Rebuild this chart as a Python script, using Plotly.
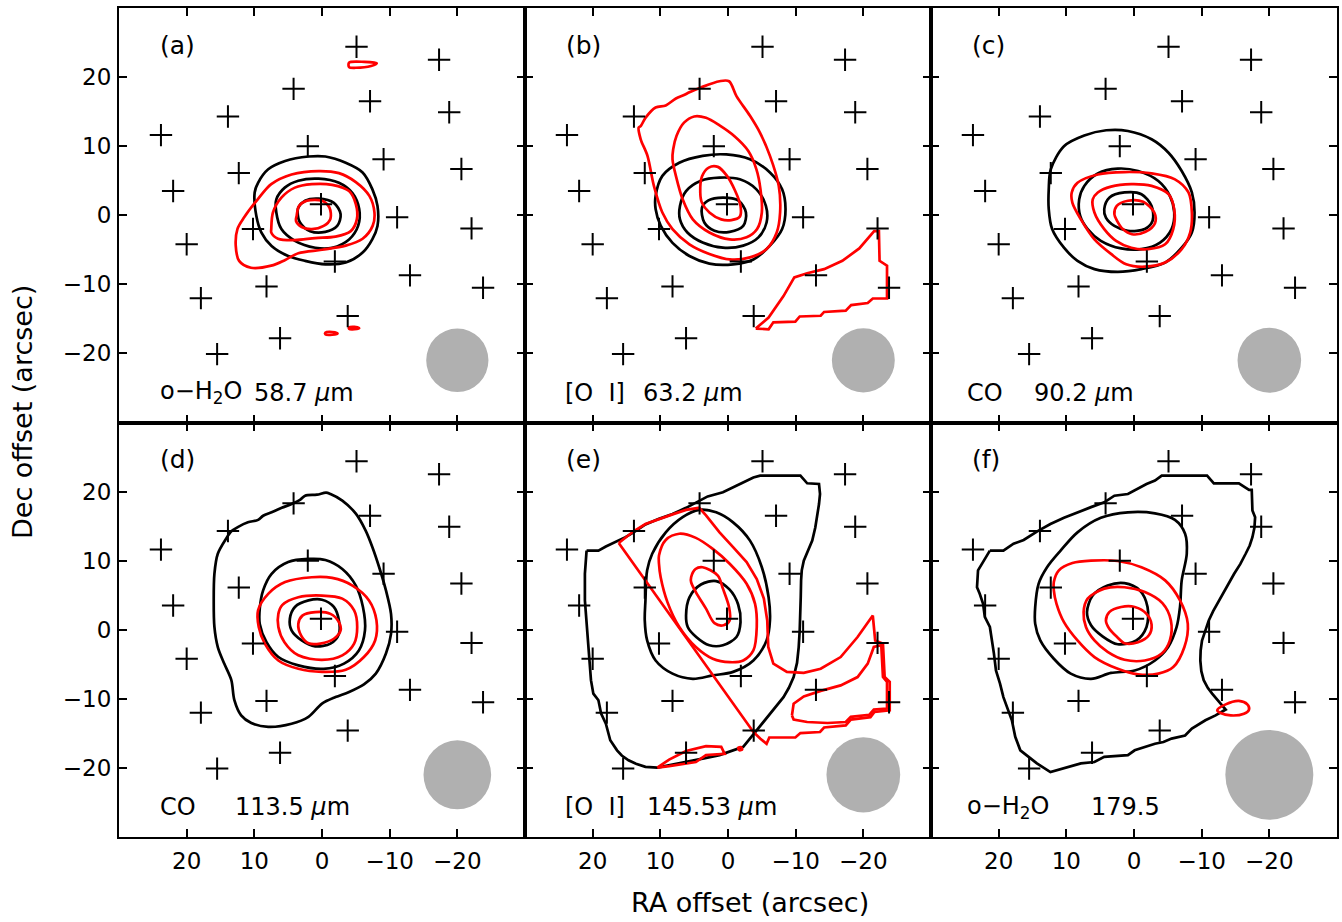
import plotly.graph_objects as go
from plotly.subplots import make_subplots

# ---------------- data ----------------
# PACS spaxel centres (RA offset, Dec offset) in arcsec
spaxel_ra = [-5.1, -17.3, 4.2, -7.1, -18.8, 13.9, 23.8, 2.1, -9.1, -20.6, 12.3, 22.0, 0.15,
             -11.1, -22.1, 10.2, 20.0, -1.9, -13.0, -23.8, 8.2, 17.9, -3.8, 6.2, 15.5]
spaxel_dec = [24.4, 22.5, 18.3, 16.5, 14.9, 14.3, 11.6, 10.0, 8.1, 6.7, 6.1, 3.5, 1.6,
              -0.3, -1.9, -2.0, -4.2, -6.7, -8.7, -10.5, -10.3, -12.0, -14.6, -17.8, -20.1]

panel_letters = ["(a)", "(b)", "(c)", "(d)", "(e)", "(f)"]
species = ["o\u2212H<sub>2</sub>O", "[O\u00a0\u00a0I]", "CO", "CO", "[O\u00a0\u00a0I]", "o\u2212H<sub>2</sub>O"]
wavelengths = ["58.7 <i>\u00b5</i>m", "63.2 <i>\u00b5</i>m", "90.2 <i>\u00b5</i>m",
               "113.5 <i>\u00b5</i>m", "145.53 <i>\u00b5</i>m", "179.5"]
beam_radius = [4.6, 4.65, 4.7, 5.0, 5.45, 6.5]
beam_ra = -20.0
beam_dec = -21.0

# contour loops, (RA, Dec) in arcsec
a_black = [
    [(9.95, 3.3), (9.45, 4.7), (7.95, 6.65), (5.45, 7.85), (2.0, 8.5), (-0.5, 8.5), (-3.5, 7.6), (-6.0, 6.2),
     (-7.45, 3.75), (-8.2, 1.35), (-8.2, -1.55), (-7.45, -3.45), (-6.0, -5.4), (-3.5, -6.85), (-0.5, -7.1),
     (2.5, -6.6), (5.0, -5.9), (7.45, -4.45), (8.95, -2.5), (9.7, -0.1), (9.95, 3.3)],
    [(6.75, 2.3), (5.5, 4.0), (3.5, 5.0), (0.5, 5.3), (-2.5, 4.7), (-4.5, 3.2), (-5.5, 0.9), (-5.35, -1.5),
     (-4.0, -3.5), (-1.5, -4.7), (1.0, -4.7), (4.0, -3.7), (6.0, -2.0), (6.75, 0.4), (6.75, 2.3)],
    [(3.5, 1.1), (2.5, 2.1), (0.5, 2.4), (-1.75, 1.8), (-2.75, 0.15), (-2.25, -1.55), (-0.5, -2.4),
     (1.75, -2.3), (3.25, -1.05), (3.6, 0.4), (3.5, 1.1)],
]
a_black_step = []
a_red = [
    [(12.5, -2.0), (11.5, -0.3), (9.5, 2.3), (7.5, 4.5), (4.5, 5.9), (0.5, 6.4), (-2.5, 6.1), (-5.0, 4.8),
     (-7.0, 2.8), (-7.75, 0.4), (-7.5, -1.5), (-6.0, -3.4), (-3.5, -4.4), (0.0, -5.0), (3.5, -5.5),
     (5.5, -6.5), (7.5, -7.3), (10.5, -7.6), (12.25, -6.6), (12.75, -4.4), (12.5, -2.0)],
    [(7.5, -2.0), (7.25, 0.4), (6.0, 2.55), (4.0, 4.0), (1.5, 4.5), (-1.5, 4.4), (-4.0, 3.5), (-5.0, 1.6),
     (-5.15, -0.6), (-4.25, -2.3), (-2.0, -3.1), (1.0, -3.3), (4.0, -3.6), (6.5, -3.4), (7.5, -2.5), (7.5, -2.0)],
    [(3.75, -0.1), (3.4, 1.35), (2.25, 2.1), (0.0, 2.1), (-1.1, 1.1), (-1.25, -0.5), (-0.25, -1.55),
     (1.5, -2.0), (3.0, -1.7), (3.85, -0.8), (3.75, -0.1)],
    [(-4.0, 22.1), (-6.25, 22.2), (-8.1, 22.0), (-7.25, 21.6), (-5.0, 21.35), (-4.0, 21.45), (-4.0, 22.1)],
    [(-0.5, -17.0), (-1.5, -16.9), (-2.3, -17.1), (-1.5, -17.3), (-0.5, -17.25), (-0.5, -17.0)],
    [(-4.0, -16.25), (-4.8, -16.15), (-5.5, -16.35), (-4.8, -16.5), (-4.0, -16.45), (-4.0, -16.25)],
]
a_red_step = []

b_black = [
    [(10.7, 2.8), (9.7, 5.7), (7.2, 7.6), (3.75, 8.6), (0.25, 8.8), (-3.25, 8.1), (-6.2, 6.2), (-8.0, 3.75),
     (-8.5, 0.9), (-8.0, -2.0), (-6.2, -4.4), (-3.75, -6.4), (-0.75, -7.1), (2.75, -7.0), (5.7, -5.9),
     (8.2, -4.0), (9.95, -1.5), (10.7, 0.9), (10.7, 2.8)],
    [(7.1, 1.35), (6.2, 3.5), (4.0, 5.0), (1.25, 5.45), (-1.75, 5.2), (-4.2, 3.75), (-5.6, 1.35), (-5.7, -1.05),
     (-4.5, -3.2), (-2.25, -4.4), (0.75, -4.7), (3.75, -3.95), (6.0, -2.5), (7.1, -0.6), (7.1, 1.35)],
    [(3.85, 1.1), (2.9, 2.15), (0.75, 2.55), (-1.5, 2.15), (-2.65, 0.4), (-2.25, -1.55), (-0.25, -2.4),
     (2.0, -2.25), (3.5, -1.05), (3.85, 1.1)],
]
b_black_step = []
b_red = [
    [(12.9, 12.9), (12.2, 14.1), (10.7, 15.6), (9.2, 15.9), (7.7, 16.9), (6.5, 17.4), (5.7, 17.8), (4.0, 18.5),
     (1.25, 19.4), (-0.15, 19.4), (-1.25, 17.25), (-3.25, 14.4), (-4.7, 12.0), (-6.2, 8.6), (-7.5, 4.25),
     (-7.7, 0.4), (-7.2, -2.5), (-5.7, -4.9), (-3.25, -6.1), (-0.25, -6.4), (2.75, -5.6), (5.7, -4.2),
     (8.2, -2.0), (9.7, 0.4), (10.95, 4.25), (11.9, 8.6), (12.9, 11.0), (13.2, 12.7), (12.9, 12.9)],
    [(8.1, 9.55), (7.6, 11.5), (6.5, 13.4), (5.0, 14.3), (3.25, 14.1), (1.25, 13.0), (-1.0, 11.4), (-3.0, 9.3),
     (-4.2, 6.65), (-4.8, 3.75), (-5.0, 0.4), (-4.3, -2.0), (-2.75, -3.2), (-0.25, -3.5), (2.75, -2.5),
     (5.2, -0.6), (6.7, 2.3), (7.7, 5.7), (8.2, 8.1), (8.1, 9.55)],
    [(4.1, 3.3), (3.85, 5.6), (2.85, 6.9), (1.5, 7.0), (0.15, 5.7), (-1.0, 3.65), (-1.85, 1.35), (-1.75, -0.2),
     (-0.5, -0.7), (1.0, -0.6), (2.75, 0.4), (3.85, 1.8), (4.1, 3.3)],
]
b_red_step = [
    [(-4.1, -16.4), (-6.0, -14.8), (-8.2, -11.7), (-9.8, -9.0), (-11.7, -8.4), (-14.2, -7.8), (-16.9, -6.6),
     (-19.4, -4.8), (-21.6, -2.3), (-22.3, -2.3), (-22.4, -6.6), (-23.5, -7.3), (-23.5, -12.05), (-21.4, -12.05),
     (-20.65, -12.7), (-18.2, -13.0), (-17.4, -13.8), (-14.2, -14.0), (-13.7, -14.55), (-10.6, -14.65),
     (-9.95, -15.4), (-6.7, -15.5), (-6.0, -16.5), (-4.1, -16.4)],
]

c_black = [
    [(12.6, 3.75), (12.3, 6.65), (10.35, 10.0), (7.35, 11.55), (4.1, 12.3), (0.9, 12.2), (-2.6, 11.0),
     (-5.1, 9.05), (-7.05, 6.4), (-8.55, 3.3), (-8.95, 0.4), (-8.55, -2.5), (-7.05, -4.7), (-4.6, -6.85),
     (-1.1, -7.8), (2.4, -8.2), (5.85, -7.8), (8.35, -6.6), (10.35, -4.7), (12.1, -2.0), (12.6, 0.9), (12.6, 3.75)],
    [(8.1, 2.3), (7.35, 4.25), (5.35, 6.05), (2.4, 6.75), (-0.6, 6.4), (-3.6, 4.95), (-5.3, 2.8), (-5.95, 0.4),
     (-5.55, -2.0), (-3.85, -3.95), (-1.1, -4.9), (1.9, -4.8), (4.9, -3.7), (6.85, -2.0), (7.95, -0.1), (8.1, 2.3)],
    [(4.4, 0.9), (3.65, 2.55), (1.4, 3.3), (-1.1, 3.05), (-2.6, 1.35), (-2.75, -0.8), (-1.6, -2.0),
     (0.9, -2.25), (2.9, -1.55), (4.15, -0.35), (4.4, 0.9)],
]
c_black_step = []
c_red = [
    [(9.2, 3.3), (8.35, 4.7), (5.35, 5.9), (1.4, 6.25), (-2.6, 6.05), (-6.05, 5.2), (-8.05, 3.3), (-8.55, 0.4),
     (-8.3, -2.5), (-7.05, -4.9), (-4.6, -6.85), (-1.6, -7.45), (1.15, -7.1), (3.4, -5.6), (5.85, -3.5),
     (7.85, -0.6), (9.1, 1.8), (9.2, 3.3)],
    [(6.1, 2.3), (5.35, 3.3), (3.4, 4.15), (0.4, 4.5), (-2.6, 4.25), (-5.1, 3.05), (-5.95, 0.8), (-5.8, -2.0),
     (-4.6, -4.2), (-2.1, -4.9), (0.4, -4.7), (2.65, -3.7), (4.4, -2.0), (5.85, 0.4), (6.1, 2.3)],
    [(2.9, 0.15), (2.55, 1.35), (0.9, 2.1), (-1.35, 1.95), (-3.0, 0.4), (-3.1, -1.15), (-1.7, -2.4),
     (0.3, -2.75), (1.65, -2.0), (2.5, -0.8), (2.9, 0.15)],
]
c_red_step = []

d_black = [
    [(14.2, 13.15), (13.4, 14.25), (12.45, 14.85), (10.95, 15.55), (9.45, 15.9), (8.7, 16.5), (7.45, 17.0),
     (5.95, 17.65), (4.5, 18.2), (3.25, 18.8), (2.5, 19.4), (0.75, 19.55), (-0.6, 19.85), (-1.25, 19.65),
     (-3.0, 18.7), (-5.0, 16.8), (-6.45, 14.35), (-7.45, 11.95), (-8.45, 9.05), (-9.45, 5.7), (-10.2, 2.3),
     (-10.2, -0.6), (-9.45, -3.45), (-7.95, -6.35), (-6.2, -7.9), (-4.0, -9.0), (-2.0, -9.75), (0.0, -10.7),
     (2.0, -12.6), (4.5, -13.6), (7.95, -14.05), (10.45, -13.5), (11.95, -12.4), (12.95, -10.2), (13.4, -7.3),
     (14.45, -4.9), (15.4, -2.5), (15.9, 0.4), (16.0, 4.25), (15.9, 8.1), (15.4, 11.0), (14.2, 13.15)],
    [(9.2, 3.05), (8.7, 5.7), (7.45, 8.1), (5.0, 9.8), (2.0, 10.25), (-0.5, 10.1), (-3.0, 8.8), (-5.0, 6.4),
     (-6.05, 3.3), (-6.35, -0.1), (-5.45, -3.0), (-3.25, -4.9), (-0.25, -5.65), (3.5, -5.15), (6.45, -3.95),
     (8.2, -1.8), (9.2, 0.85), (9.2, 3.05)],
    [(4.75, 1.6), (4.0, 3.3), (2.0, 4.25), (0.0, 4.35), (-1.75, 3.3), (-2.5, 1.35), (-2.5, -0.6), (-1.25, -2.0),
     (1.0, -2.4), (3.0, -1.55), (4.5, -0.1), (4.75, 1.6)],
]
d_black_step = []
d_red = [
    [(9.45, 2.8), (7.95, 5.2), (5.45, 6.9), (1.5, 7.6), (-1.5, 7.5), (-4.5, 6.4), (-6.95, 4.25), (-8.05, 1.35),
     (-7.85, -1.55), (-6.2, -3.95), (-3.5, -5.8), (0.0, -6.1), (3.5, -5.65), (6.45, -4.45), (8.45, -2.0),
     (9.35, 0.4), (9.45, 2.8)],
    [(6.45, 2.3), (5.85, 3.6), (3.5, 4.7), (0.0, 4.95), (-3.0, 4.5), (-4.75, 2.8), (-5.2, 0.4), (-4.75, -2.0),
     (-3.0, -3.7), (0.0, -4.35), (3.5, -3.7), (5.55, -1.8), (6.45, 0.4), (6.45, 2.3)],
    [(3.5, 0.85), (2.9, 2.05), (1.0, 2.55), (-1.25, 2.3), (-2.5, 1.1), (-2.75, -0.1), (-1.75, -1.3),
     (0.25, -2.0), (2.0, -1.95), (3.1, -0.8), (3.5, 0.85)],
]
d_red_step = []

e_black = [
    [(12.2, 4.25), (11.95, 8.6), (11.2, 11.0), (9.2, 14.1), (6.7, 16.3), (4.25, 17.35), (1.75, 17.0),
     (-0.75, 15.55), (-3.25, 12.9), (-5.0, 9.05), (-6.0, 4.7), (-6.2, 1.35), (-5.7, -1.55), (-3.75, -4.45),
     (-0.75, -6.1), (2.25, -6.6), (5.2, -7.1), (8.2, -6.35), (10.7, -4.45), (11.95, -1.55), (12.3, 1.35), (12.2, 4.25)],
    [(6.2, 2.05), (5.7, 4.7), (4.0, 6.55), (1.75, 7.05), (-0.25, 5.8), (-1.5, 3.65), (-1.85, 1.1), (-1.25, -1.05),
     (0.75, -2.25), (2.75, -2.25), (4.7, -1.05), (5.95, 0.4), (6.2, 2.05)],
]
e_black_step = [
    [(20.9, 11.45), (19.15, 11.45), (18.05, 12.05), (16.15, 12.9), (15.15, 13.4), (13.95, 14.1), (12.2, 15.25),
     (10.2, 16.05), (8.2, 16.75), (6.2, 17.65), (4.25, 18.6), (3.0, 19.3), (0.75, 19.9), (-0.75, 20.55),
     (-2.0, 21.2), (-3.75, 22.05), (-4.75, 22.3), (-10.7, 22.3), (-11.7, 21.2), (-13.45, 21.1), (-13.6, 19.65),
     (-13.45, 18.2), (-13.2, 16.75), (-12.9, 14.8), (-12.45, 12.9), (-11.7, 11.3), (-11.2, 10.0), (-10.9, 8.6),
     (-10.8, 7.15), (-10.75, 4.7), (-10.7, 2.3), (-10.6, 0.0), (-10.45, -2.5), (-10.2, -4.8), (-9.7, -6.85),
     (-9.0, -8.4), (-8.2, -9.75), (-7.2, -11.0), (-6.2, -12.15), (-4.75, -14.05), (-3.75, -15.15),
     (-2.25, -16.95), (-0.25, -17.7), (1.25, -18.15), (3.75, -18.65), (6.2, -19.15), (8.2, -19.6),
     (10.45, -19.95), (12.2, -19.85), (13.6, -19.4), (14.7, -18.9), (15.7, -18.2), (16.4, -17.45),
     (17.4, -16.0), (18.05, -13.6), (18.75, -12.15), (19.15, -10.2), (19.9, -9.25), (20.25, -7.3),
     (20.4, -5.4), (20.65, -2.5), (20.9, 0.4), (21.15, 4.25), (21.15, 8.1), (20.9, 11.45)],
]
e_red = [
    [(10.2, 10.75), (9.2, 13.0), (7.2, 13.9), (4.75, 13.3), (2.25, 11.7), (-0.25, 9.55), (-2.75, 6.65),
     (-4.0, 3.75), (-4.25, 0.4), (-3.75, -3.0), (-2.25, -4.45), (-0.25, -4.7), (2.25, -4.2), (4.75, -2.5),
     (7.2, 0.4), (8.95, 4.0), (9.95, 7.6), (10.2, 9.55), (10.2, 10.75)],
    [(5.45, 7.6), (4.8, 8.8), (3.75, 9.05), (1.5, 7.85), (0.75, 5.95), (-0.15, 3.3), (-0.25, 1.35), (0.65, 0.65),
     (2.0, 0.95), (3.25, 3.05), (4.75, 5.45), (5.45, 6.9), (5.45, 7.6)],
    [(-1.5, -17.1), (-1.9, -17.0), (-2.1, -17.3), (-1.7, -17.45), (-1.5, -17.1)],
]
e_red_step = [
    [(16.15, 12.55), (13.95, 14.25), (12.2, 15.3), (10.2, 16.05), (8.2, 16.7), (6.2, 17.35), (4.25, 17.65),
     (3.25, 16.55), (1.25, 14.1), (-0.75, 11.95), (-2.75, 9.8), (-4.25, 7.35), (-5.3, 4.5), (-5.8, 1.35),
     (-5.95, -2.5), (-6.7, -4.9), (-8.7, -6.1), (-11.2, -6.25), (-13.7, -5.65), (-16.65, -3.95),
     (-19.15, -1.05), (-21.4, 2.05), (-21.75, -1.55), (-22.9, -2.0), (-23.15, -6.85), (-23.9, -7.55),
     (-23.9, -11.65), (-21.65, -11.9), (-21.05, -12.65), (-18.15, -13.0), (-17.4, -13.85), (-14.2, -14.15),
     (-13.6, -14.8), (-10.7, -14.95), (-9.95, -15.6), (-6.1, -15.6), (-5.7, -16.5), (-4.75, -15.75),
     (-3.75, -14.8), (16.15, 12.55)],
    [(-9.45, -12.4), (-9.7, -10.7), (-11.2, -9.65), (-13.7, -8.85), (-16.65, -8.05), (-19.15, -6.85),
     (-20.65, -4.9), (-21.55, -2.5), (-22.65, -2.25), (-22.9, -6.85), (-23.5, -7.55), (-23.5, -11.4),
     (-21.55, -11.55), (-20.9, -12.3), (-18.15, -12.6), (-17.4, -13.35), (-14.7, -13.5), (-11.7, -13.35),
     (-9.7, -13.0), (-9.45, -12.4)],
    [(10.45, -19.95), (8.7, -18.8), (6.2, -17.55), (3.25, -16.85), (1.0, -16.95), (0.5, -17.95), (3.25, -18.15),
     (4.75, -19.15), (8.7, -19.75), (10.45, -19.95)],
]

f_black = [
    [(14.6, 3.3), (14.1, 6.65), (12.85, 9.05), (10.85, 11.45), (8.35, 14.1), (4.9, 16.2), (0.9, 17.0),
     (-3.1, 16.85), (-6.05, 15.9), (-7.55, 13.9), (-7.8, 11.0), (-7.05, 7.15), (-6.8, 3.3), (-6.3, 0.4),
     (-5.05, -2.5), (-3.1, -4.45), (-0.1, -5.9), (3.4, -6.25), (6.35, -7.1), (9.35, -6.35), (11.85, -4.2),
     (13.85, -1.55), (14.6, 0.85), (14.6, 3.3)],
    [(6.95, 2.55), (6.1, 4.95), (3.9, 6.4), (1.4, 6.75), (-0.85, 5.7), (-2.0, 3.3), (-1.85, 0.4), (-0.35, -1.55),
     (2.4, -2.1), (4.65, -0.95), (6.35, 0.65), (6.95, 2.55)],
]
f_black_step = [
    [(21.3, 11.45), (19.3, 11.45), (17.8, 12.45), (16.3, 13.0), (14.3, 14.25), (12.35, 15.3), (10.35, 16.2),
     (8.35, 17.0), (6.35, 17.75), (4.4, 18.45), (2.9, 19.4), (0.9, 19.65), (-0.6, 20.4), (-1.85, 21.1),
     (-3.1, 21.6), (-4.1, 22.3), (-10.8, 22.3), (-11.8, 21.2), (-15.5, 21.2), (-17.0, 20.25), (-17.4, 20.25),
     (-17.5, 17.25), (-17.9, 16.3), (-17.8, 14.8), (-17.5, 13.4), (-17.1, 12.2), (-16.5, 11.0), (-15.7, 9.5),
     (-14.8, 8.1), (-13.7, 6.2), (-12.55, 4.25), (-11.7, 2.7), (-11.05, 1.35), (-10.5, -0.1), (-10.05, -1.55),
     (-9.85, -3.0), (-9.8, -4.45), (-9.95, -6.0), (-10.3, -7.3), (-10.9, -8.4), (-11.55, -9.25),
     (-12.8, -10.7), (-13.55, -11.55), (-12.05, -12.4), (-10.55, -13.1), (-8.55, -14.3), (-7.55, -15.3),
     (-5.55, -15.75), (-4.35, -16.25), (-3.1, -16.5), (-0.1, -17.45), (0.9, -18.15), (4.4, -18.4),
     (5.85, -19.15), (7.85, -19.35), (12.35, -20.6), (14.35, -19.35), (16.8, -17.45), (17.55, -15.5),
     (18.05, -13.1), (18.8, -11.2), (19.3, -9.75), (19.8, -7.8), (20.4, -5.9), (20.7, -3.45), (21.05, -1.05),
     (21.3, 0.4), (22.05, 1.85), (22.3, 3.75), (22.8, 5.2), (23.2, 6.15), (23.05, 8.6), (21.3, 11.45)],
]
f_red = [
    [(11.85, 6.9), (11.1, 8.6), (9.1, 9.65), (6.35, 10.0), (2.4, 9.95), (-1.1, 9.05), (-4.6, 7.15), (-6.8, 4.25),
     (-7.95, 0.85), (-7.45, -2.5), (-5.8, -5.4), (-3.6, -6.35), (-0.6, -6.45), (2.4, -5.65), (5.85, -3.95),
     (8.35, -1.55), (10.35, 1.1), (11.45, 3.75), (11.85, 5.7), (11.85, 6.9)],
    [(7.45, 2.55), (6.85, 4.5), (4.4, 5.95), (1.4, 6.15), (-1.6, 5.45), (-4.2, 3.85), (-5.45, 1.35), (-5.3, -1.55),
     (-4.1, -3.45), (-1.6, -4.45), (1.4, -4.35), (3.9, -3.2), (5.85, -1.55), (7.1, 0.4), (7.45, 2.55)],
    [(4.15, 1.35), (3.65, 2.55), (1.9, 3.3), (-0.1, 3.3), (-1.85, 2.3), (-2.6, 0.75), (-2.2, -0.8), (-0.6, -1.8),
     (1.4, -1.95), (2.5, -1.05), (3.65, 0.15), (4.15, 1.35)],
    [(-12.3, -11.65), (-13.55, -10.8), (-15.5, -10.3), (-16.75, -10.8), (-17.0, -11.55), (-16.25, -12.15),
     (-14.3, -12.4), (-12.8, -12.05), (-12.3, -11.65)],
]
f_red_step = []

panels = [
    (a_black, a_black_step, a_red, a_red_step),
    (b_black, b_black_step, b_red, b_red_step),
    (c_black, c_black_step, c_red, c_red_step),
    (d_black, d_black_step, d_red, d_red_step),
    (e_black, e_black_step, e_red, e_red_step),
    (f_black, f_black_step, f_red, f_red_step),
]

# ---------------- figure ----------------
FONT = "DejaVu Sans"
fig = make_subplots(rows=2, cols=3, horizontal_spacing=0, vertical_spacing=0)


def add_loop(loop, color, shape, row, col):
    line = dict(color=color, width=2.7, shape=shape)
    if shape == "spline":
        line["smoothing"] = 0.9
    fig.add_trace(go.Scatter(
        x=[p[0] for p in loop], y=[p[1] for p in loop], mode="lines", line=line,
        hoverinfo="skip", showlegend=False), row=row, col=col)


for i, (blk, blk_step, red, red_step) in enumerate(panels):
    row, col = i // 3 + 1, i % 3 + 1
    for loop in blk:
        add_loop(loop, "black", "spline", row, col)
    for loop in blk_step:
        add_loop(loop, "black", "linear", row, col)
    for loop in red:
        add_loop(loop, "#ff0000", "spline", row, col)
    for loop in red_step:
        add_loop(loop, "#ff0000", "linear", row, col)
    fig.add_trace(go.Scatter(
        x=spaxel_ra, y=spaxel_dec, mode="markers",
        marker=dict(symbol="cross-thin", size=16, color="black", line=dict(color="black", width=2)),
        hoverinfo="skip", showlegend=False), row=row, col=col)

    sfx = "" if i == 0 else str(i + 1)
    xr, yr = "x" + sfx, "y" + sfx
    r = beam_radius[i]
    fig.add_shape(type="circle", xref=xr, yref=yr, x0=beam_ra - r, x1=beam_ra + r,
                  y0=beam_dec - r, y1=beam_dec + r, fillcolor="#b0b0b0", line=dict(width=0), layer="below")
    fig.add_annotation(x=24.3, y=24.6, xref=xr, yref=yr, text=panel_letters[i], showarrow=False,
                       xanchor="left", yanchor="middle", font=dict(family=FONT, size=25, color="black"))

# bottom-left labels
species_x = [24.3, 24.4, 25.0, 24.3, 24.4, 25.0]
wave_x = [10.3, 12.8, 15.1, 13.1, 12.3, 6.7]
for i in range(6):
    sfx = "" if i == 0 else str(i + 1)
    xr, yr = "x" + sfx, "y" + sfx
    fig.add_annotation(x=species_x[i], y=-25.7, xref=xr, yref=yr, text=species[i], showarrow=False,
                       xanchor="left", yanchor="middle", font=dict(family=FONT, size=24, color="black"))
    fig.add_annotation(x=wave_x[i], y=-25.7, xref=xr, yref=yr, text=wavelengths[i], showarrow=False,
                       xanchor="left", yanchor="middle", font=dict(family=FONT, size=24, color="black"))

axis_common = dict(ticks="inside", ticklen=8, tickwidth=2, tickcolor="black", showline=True,
                   linecolor="black", linewidth=2, mirror="ticks", showgrid=False, zeroline=False,
                   automargin=False, tickfont=dict(family=FONT, size=23, color="black"))
fig.update_xaxes(range=[30, -30], tickvals=[20, 10, 0, -10, -20], ticklabelstandoff=2, **axis_common)
fig.update_yaxes(range=[-30, 30], tickvals=[-20, -10, 0, 10, 20], ticklabelstandoff=1, **axis_common)
for c in (1, 2, 3):
    fig.update_xaxes(showticklabels=False, row=1, col=c)
for rr in (1, 2):
    for c in (2, 3):
        fig.update_yaxes(showticklabels=False, row=rr, col=c)

fig.add_annotation(x=0.518, y=-0.0796, xref="paper", yref="paper", text="RA offset (arcsec)",
                   showarrow=False, xanchor="center", yanchor="middle",
                   font=dict(family=FONT, size=27, color="black"))
fig.add_annotation(x=-0.0788, y=0.5127, xref="paper", yref="paper", text="Dec offset (arcsec)",
                   showarrow=False, xanchor="center", yanchor="middle", textangle=-90,
                   font=dict(family=FONT, size=27, color="black"))

fig.update_layout(width=1342, height=922, margin=dict(l=119, r=5, t=8, b=85, autoexpand=False),
                  plot_bgcolor="white", paper_bgcolor="white", showlegend=False)

fig.write_html("out.html", config={"responsive": False, "displayModeBar": False},
               post_script="document.body.style.margin='0';document.body.style.overflow='hidden';")
